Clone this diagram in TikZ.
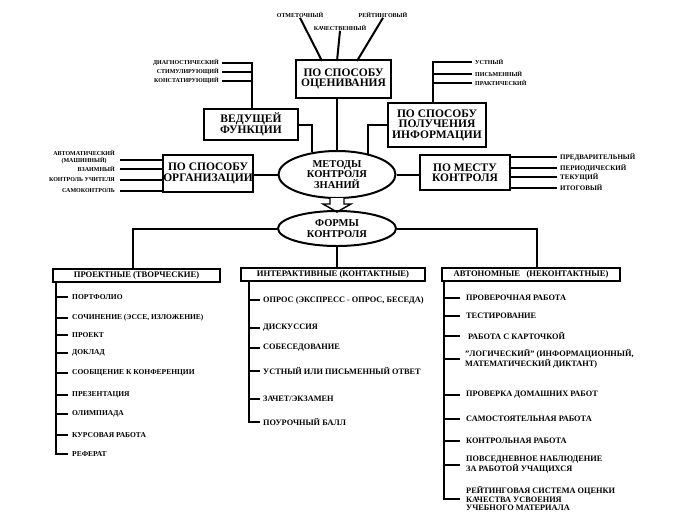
\documentclass[tikz,border=0pt]{standalone}
\usepackage{fontspec}
\setmainfont{Liberation Serif}
\usetikzlibrary{shapes.geometric}
\begin{document}
\begin{tikzpicture}[x=1pt,y=-1pt,
  box/.style={draw,line width=2pt,align=center,inner sep=0pt,font=\bfseries\fontsize{11.5}{10.5}\selectfont},
  oval/.style={ellipse,draw,line width=2pt,align=center,inner sep=0pt,font=\bfseries\fontsize{10.5}{10.5}\selectfont},
  hbox/.style={draw,line width=2pt,inner sep=0pt,minimum height=13pt,font=\bfseries\fontsize{8.6}{8.6}\selectfont},
  tiny/.style={inner sep=0pt,font=\bfseries\fontsize{6}{6.5}\selectfont},
  item/.style={anchor=west,inner sep=0pt,align=left,font=\bfseries\fontsize{7.5}{8.5}\selectfont},
  itemb/.style={item,font=\bfseries\fontsize{8.3}{8.8}\selectfont},
  conn/.style={line width=2pt},
]
\useasboundingbox[fill=white] (0,0) rectangle (676,523);

% --- top: evaluation
\node[tiny] (otm) at (300,15) {ОТМЕТОЧНЫЙ};
\node[tiny] (kach) at (340,28) {КАЧЕСТВЕННЫЙ};
\node[tiny] (reit) at (383,15) {РЕЙТИНГОВЫЙ};
\node[box,minimum width=95pt,minimum height=38pt] (ocen) at (343.5,79) {ПО СПОСОБУ\\ОЦЕНИВАНИЯ};
\coordinate (o1) at (322,61);
\coordinate (o2) at (337,61);
\coordinate (o3) at (357,61);
\draw[conn] (otm.south) -- (o1);
\draw[conn] (kach.south) -- (o2);
\draw[conn] (reit.south) -- (o3);

% --- central oval
\node[oval,minimum width=117pt,minimum height=47pt] (met) at (337,174.5) {МЕТОДЫ\\КОНТРОЛЯ\\ЗНАНИЙ};
\draw[conn] (ocen.south -| met.north) -- (met.north);

% --- leading functions
\node[box,minimum width=94pt,minimum height=31pt] (ved) at (251,124.5) {ВЕДУЩЕЙ\\ФУНКЦИИ};
\draw[conn] (ved.east) -| (met.138);
\node[tiny,anchor=east] (d1) at (219,63) {ДИАГНОСТИЧЕСКИЙ};
\node[tiny,anchor=east] (d2) at (219,71.5) {СТИМУЛИРУЮЩИЙ};
\node[tiny,anchor=east] (d3) at (219,81) {КОНСТАТИРУЮЩИЙ};
\coordinate (vb) at (252,63);
\draw[conn] ([xshift=3pt]d1.east) -- (d1.east -| vb) -- (vb |- ved.north);
\draw[conn] ([xshift=3pt]d2.east) -- (d2.east -| vb);
\draw[conn] ([xshift=3pt]d3.east) -- (d3.east -| vb);

% --- information
\node[box,minimum width=98pt,minimum height=44pt] (pol) at (437,125) {ПО СПОСОБУ\\ПОЛУЧЕНИЯ\\ИНФОРМАЦИИ};
\draw[conn] (pol.west) -| (met.34);
\node[tiny,anchor=west] (u1) at (475,62) {УСТНЫЙ};
\node[tiny,anchor=west] (u2) at (475,73.5) {ПИСЬМЕННЫЙ};
\node[tiny,anchor=west] (u3) at (475,83) {ПРАКТИЧЕСКИЙ};
\coordinate (pb) at (433,62);
\draw[conn] (pb |- pol.north) -- (u1.west -| pb) -- ([xshift=-3pt]u1.west);
\draw[conn] (u2.west -| pb) -- ([xshift=-3pt]u2.west);
\draw[conn] (u3.west -| pb) -- ([xshift=-3pt]u3.west);

% --- organisation
\node[box,minimum width=90pt,minimum height=37pt] (org) at (208,173.5) {ПО СПОСОБУ\\ОРГАНИЗАЦИИ};
\draw[conn] (org.east |- met.west) -- (met.west);
\node[tiny,anchor=east,align=center,font=\bfseries\fontsize{6}{7}\selectfont] (a1) at (115,157.5) {АВТОМАТИЧЕСКИЙ\\(МАШИННЫЙ)};
\node[tiny,anchor=east] (a2) at (115,169) {ВЗАИМНЫЙ};
\node[tiny,anchor=east] (a3) at (115,180) {КОНТРОЛЬ УЧИТЕЛЯ};
\node[tiny,anchor=east] (a4) at (115,191) {САМОКОНТРОЛЬ};
\coordinate (ab) at (120,160);
\draw[conn] (ab) -- (ab -| org.west);
\draw[conn] (a2.east -| ab) -- (a2.east -| org.west);
\draw[conn] (a3.east -| ab) -- (a3.east -| org.west);
\draw[conn] (a4.east -| ab) -- (a4.east -| org.west);

% --- place
\node[box,minimum width=90pt,minimum height=35pt] (mes) at (465,172.5) {ПО МЕСТУ\\КОНТРОЛЯ};
\draw[conn] (met.east) -- (met.east -| mes.west);
\node[tiny,anchor=west,font=\bfseries\fontsize{7}{7}\selectfont] (r1) at (560,157) {ПРЕДВАРИТЕЛЬНЫЙ};
\node[tiny,anchor=west,font=\bfseries\fontsize{7}{7}\selectfont] (r2) at (560,168) {ПЕРИОДИЧЕСКИЙ};
\node[tiny,anchor=west,font=\bfseries\fontsize{7}{7}\selectfont] (r3) at (560,177) {ТЕКУЩИЙ};
\node[tiny,anchor=west,font=\bfseries\fontsize{7}{7}\selectfont] (r4) at (560,188) {ИТОГОВЫЙ};
\foreach \i in {1,...,4} \draw[conn] (r\i.west -| mes.east) -- ([xshift=-3pt]r\i.west);

% --- hollow arrow
\draw[line width=1.4pt,fill=white] (met.south) ++(-7,-1) -- ++(0,6) -- ++(-7,0) -- ++(14,8) -- ++(14,-8) -- ++(-7,0) -- ++(0,-6);

% --- forms
\node[oval,minimum width=118pt,minimum height=35pt,font=\bfseries\fontsize{10.5}{11}\selectfont] (frm) at (337,228.5) {ФОРМЫ\\КОНТРОЛЯ};

\node[hbox,minimum width=167pt] (prj) at (136.5,275) {ПРОЕКТНЫЕ (ТВОРЧЕСКИЕ)};
\node[hbox,minimum width=184pt] (int) at (333,274.5) {ИНТЕРАКТИВНЫЕ (КОНТАКТНЫЕ)};
\node[hbox,minimum width=178pt] (aut) at (531,274.5) {АВТОНОМНЫЕ\ \ \ (НЕКОНТАКТНЫЕ)};
\draw[conn] (frm.west) -| ([xshift=-3.5pt]prj.north);
\draw[conn] (frm.south) -- (frm.south |- int.north);
\draw[conn] (frm.east) -| ([xshift=6pt]aut.north);

% --- left column
\node[item] (p1) at (72,297) {ПОРТФОЛИО};
\node[item] (p2) at (72,318) {СОЧИНЕНИЕ (ЭССЕ, ИЗЛОЖЕНИЕ)};
\node[item] (p3) at (72,335) {ПРОЕКТ};
\node[item] (p4) at (72,353) {ДОКЛАД};
\node[item] (p5) at (72,373) {СООБЩЕНИЕ К КОНФЕРЕНЦИИ};
\node[item] (p6) at (72,395) {ПРЕЗЕНТАЦИЯ};
\node[item] (p7) at (72,414) {ОЛИМПИАДА};
\node[item] (p8) at (72,435) {КУРСОВАЯ РАБОТА};
\node[item] (p9) at (72,454) {РЕФЕРАТ};
\coordinate (lb) at ([xshift=4pt]prj.south west);
\draw[conn] (lb) |- ([xshift=-4pt]p9.west);
\foreach \i in {1,...,8} \draw[conn] (p\i.west -| lb) -- ([xshift=-4pt]p\i.west);

% --- middle column
\node[itemb] (m1) at (263,300) {ОПРОС (ЭКСПРЕСС - ОПРОС, БЕСЕДА)};
\node[itemb] (m2) at (263,328) {ДИСКУССИЯ};
\node[itemb] (m3) at (263,348) {СОБЕСЕДОВАНИЕ};
\node[itemb] (m4) at (263,371) {УСТНЫЙ ИЛИ ПИСЬМЕННЫЙ ОТВЕТ};
\node[itemb] (m5) at (263,399) {ЗАЧЕТ/ЭКЗАМЕН};
\node[itemb] (m6) at (263,422) {ПОУРОЧНЫЙ БАЛЛ};
\coordinate (mb) at ([xshift=9pt]int.south west);
\draw[conn] (mb) |- ([xshift=-3pt]m6.west);
\foreach \i in {1,...,5} \draw[conn] (m\i.west -| mb) -- ([xshift=-3pt]m\i.west);

% --- right column
\node[itemb] (n1) at (466,298) {ПРОВЕРОЧНАЯ РАБОТА};
\node[itemb] (n2) at (466,316) {ТЕСТИРОВАНИЕ};
\node[itemb] (n3) at (468,336) {РАБОТА С КАРТОЧКОЙ};
\node[itemb] (n4) at (465,359) {"ЛОГИЧЕСКИЙ" (ИНФОРМАЦИОННЫЙ,\\МАТЕМАТИЧЕСКИЙ ДИКТАНТ)};
\node[itemb] (n5) at (466,395) {ПРОВЕРКА ДОМАШНИХ РАБОТ};
\node[itemb] (n6) at (466,419) {САМОСТОЯТЕЛЬНАЯ РАБОТА};
\node[itemb] (n7) at (466,441) {КОНТРОЛЬНАЯ РАБОТА};
\node[itemb] (n8) at (466,464.5) {ПОВСЕДНЕВНОЕ НАБЛЮДЕНИЕ\\ЗА РАБОТОЙ УЧАЩИХСЯ};
\node[itemb] (n9) at (466,498.5) {РЕЙТИНГОВАЯ СИСТЕМА ОЦЕНКИ\\КАЧЕСТВА УСВОЕНИЯ\\УЧЕБНОГО МАТЕРИАЛА};
\coordinate (rb) at ([xshift=3pt]aut.south west);
\coordinate (rt) at (460,0);
\draw[conn] (rb) |- (n9.west -| rt);
\foreach \i in {1,...,8} \draw[conn] (n\i.west -| rb) -- (n\i.west -| rt);
\end{tikzpicture}
\end{document}
